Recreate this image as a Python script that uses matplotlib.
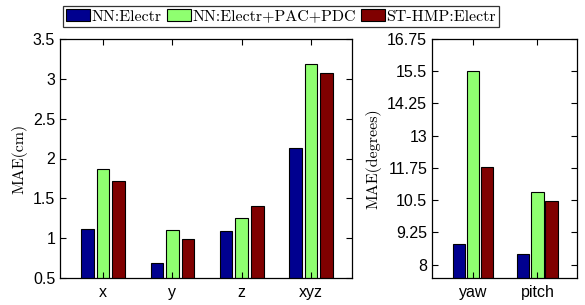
import numpy as np
import matplotlib
matplotlib.use('Agg')
import matplotlib.pyplot as plt

plt.rcParams['font.family'] = ['Liberation Sans', 'DejaVu Sans']

# data
series = ['NN:Electr', 'NN:Electr+PAC+PDC', 'ST-HMP:Electr']
colors = ['#00008F', '#8FFF70', '#800000']

pos_labels = ['x', 'y', 'z', 'xyz']
pos_nn = [1.12, 0.69, 1.09, 2.13]
pos_nn_pac = [1.87, 1.10, 1.25, 3.19]
pos_hmp = [1.72, 0.99, 1.41, 3.07]

ang_labels = ['yaw', 'pitch']
ang_nn = [8.78, 8.40]
ang_nn_pac = [15.49, 10.83]
ang_hmp = [11.80, 10.46]

serif = {'family': 'cmr10', 'size': 11.5}

fig = plt.figure(figsize=(5.85, 3.05), dpi=100)
ax1 = fig.add_axes([60 / 585, 1 - 278 / 305, 292 / 585, 239 / 305])
ax2 = fig.add_axes([432 / 585, 1 - 278 / 305, 145 / 585, 239 / 305])


def grouped(ax, labels, groups, width, step):
    x = np.arange(1, len(labels) + 1)
    handles = []
    for i, (vals, c) in enumerate(zip(groups, colors)):
        h = ax.bar(x + (i - 1) * step, vals, width, color=c, edgecolor='black',
                   linewidth=0.8, label=series[i])
        handles.append(h)
    ax.set_xticks(x)
    ax.set_xticklabels(labels)
    ax.tick_params(direction='in', top=True, right=True, labelsize=11.5,
                   length=4, width=0.8)
    ax.tick_params(axis='x', pad=5)
    for s in ax.spines.values():
        s.set_linewidth(0.9)
    return handles


handles = grouped(ax1, pos_labels, [pos_nn, pos_nn_pac, pos_hmp], 0.18, 0.225)
ax1.set_xlim(0.38, 4.59)
ax1.set_ylim(0.5, 3.5)
ax1.set_yticks([0.5, 1, 1.5, 2, 2.5, 3, 3.5])
ax1.set_yticklabels(['0.5', '1', '1.5', '2', '2.5', '3', '3.5'])
ax1.set_ylabel('MAE(cm)', fontdict=serif, labelpad=4)

grouped(ax2, ang_labels, [ang_nn, ang_nn_pac, ang_hmp], 0.19, 0.22)
ax2.set_xlim(0.367, 2.614)
ax2.set_ylim(7.48, 16.75)
ax2.set_yticks([8, 9.25, 10.5, 11.75, 13, 14.25, 15.5, 16.75])
ax2.set_yticklabels(['8', '9.25', '10.5', '11.75', '13', '14.25', '15.5', '16.75'])
ax2.set_ylabel('MAE(degrees)', fontdict=serif, labelpad=4)

leg = fig.legend(handles, series, loc='center', ncol=3,
                 bbox_to_anchor=(281 / 585, 1 - 16.5 / 305),
                 prop={'family': 'cmr10', 'size': 11.5},
                 frameon=True, fancybox=False, edgecolor='black',
                 handlelength=1.5, handleheight=0.7, handletextpad=0.08,
                 columnspacing=0.35, borderpad=0.2, borderaxespad=0)
leg.get_frame().set_linewidth(0.9)

fig.savefig('out.png', dpi=100)
